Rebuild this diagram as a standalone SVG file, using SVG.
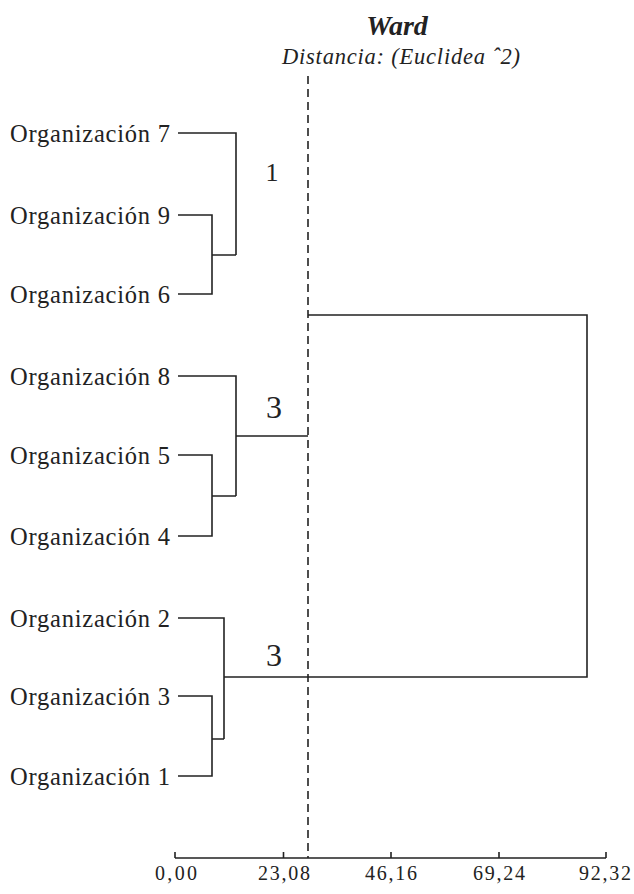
<svg xmlns="http://www.w3.org/2000/svg" width="634" height="894" viewBox="0 0 634 894">
<style>
.lbl{font-family:"Liberation Serif","DejaVu Serif",serif;font-size:24.5px;fill:#222}
.num{font-family:"Liberation Serif","DejaVu Serif",serif;fill:#222;text-anchor:middle}
.tick{font-family:"Liberation Serif","DejaVu Serif",serif;font-size:20px;fill:#222;text-anchor:middle}
.ln{stroke:#222;stroke-width:1.6;fill:none}
</style>
<rect width="634" height="894" fill="#fff"/>
<g id="title">
<text x="397" y="35" font-family="Liberation Serif, serif" font-size="28" font-weight="bold" font-style="italic" fill="#222" text-anchor="middle">Ward</text>
<text x="401" y="64" font-family="Liberation Serif, serif" font-size="22.5" font-style="italic" fill="#222" text-anchor="middle" textLength="238" lengthAdjust="spacing">Distancia: (Euclidea ˆ2)</text>
</g>
<g id="labels">
<g id="org7"><text class="lbl" x="10" y="142" textLength="160" lengthAdjust="spacing">Organización 7</text></g>
<g id="org9"><text class="lbl" x="10" y="224" textLength="160" lengthAdjust="spacing">Organización 9</text></g>
<g id="org6"><text class="lbl" x="10" y="303" textLength="160" lengthAdjust="spacing">Organización 6</text></g>
<g id="org8"><text class="lbl" x="10" y="385" textLength="160" lengthAdjust="spacing">Organización 8</text></g>
<g id="org5"><text class="lbl" x="10" y="464" textLength="160" lengthAdjust="spacing">Organización 5</text></g>
<g id="org4"><text class="lbl" x="10" y="545" textLength="160" lengthAdjust="spacing">Organización 4</text></g>
<g id="org2"><text class="lbl" x="10" y="627" textLength="160" lengthAdjust="spacing">Organización 2</text></g>
<g id="org3"><text class="lbl" x="10" y="705" textLength="160" lengthAdjust="spacing">Organización 3</text></g>
<g id="org1"><text class="lbl" x="10" y="785" textLength="160" lengthAdjust="spacing">Organización 1</text></g>
</g>
<g id="cluster-numbers">
<text class="num" x="272" y="181" font-size="26">1</text>
<text class="num" x="274" y="418" font-size="32">3</text>
<text class="num" x="274" y="666" font-size="32">3</text>
</g>
<g id="connectors">
<path class="ln" d="M178 133H236V255M178 215H212V294H178M212 255H236"/>
<path class="ln" d="M178 376H236V496M236 436H308M178 455H212V536H178M212 496H236"/>
<path class="ln" d="M178 618H224V739M224 677H587V315H308M178 696H212V776H178M212 739H224"/>
</g>
<g id="cut-line">
<line x1="308" y1="76" x2="308" y2="858" stroke="#222" stroke-width="1.6" stroke-dasharray="8,5"/>
</g>
<g id="axis">
<path class="ln" d="M175 858H606M175 852V858M283.5 852V858M391 852V858M499 852V858M606 852V858" stroke="#555"/>
<text class="tick" x="176" y="880" textLength="42" lengthAdjust="spacing">0,00</text>
<text class="tick" x="284" y="880" textLength="52" lengthAdjust="spacing">23,08</text>
<text class="tick" x="391" y="880" textLength="52" lengthAdjust="spacing">46,16</text>
<text class="tick" x="499" y="880" textLength="52" lengthAdjust="spacing">69,24</text>
<text class="tick" x="605" y="880" textLength="52" lengthAdjust="spacing">92,32</text>
</g>
</svg>
